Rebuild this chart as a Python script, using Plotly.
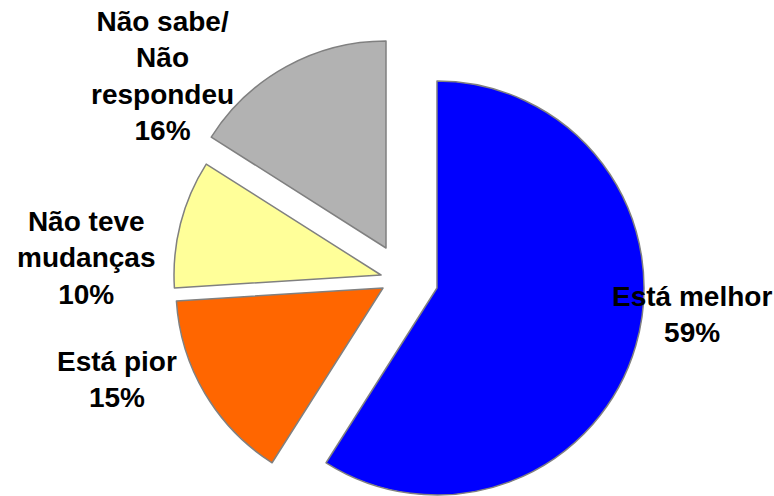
import plotly.graph_objects as go

labels = ["Está melhor", "Está pior", "Não teve mudanças", "Não sabe/Não respondeu"]
values = [59, 15, 10, 16]
colors = ["#0000FF", "#FF6600", "#FFFF99", "#B2B2B2"]
label_lines = ["Está melhor", "Está pior", "Não teve<br>mudanças", "Não sabe/<br>Não<br>respondeu"]

W, H = 774, 496
R = 207
# apex of each exploded slice, in px (one pie trace per slice so each can be offset)
centers = [(437, 288), (383, 288), (381, 275), (386, 248)]
label_pos = [(692, 314), (117, 379), (86, 258), (162, 76)]

total = sum(values)
fig = go.Figure()

for i, (cx, cy) in enumerate(centers):
    fill = [c if j == i else "rgba(0,0,0,0)" for j, c in enumerate(colors)]
    edge = ["#808080" if j == i else "rgba(0,0,0,0)" for j in range(len(values))]
    fig.add_trace(
        go.Pie(
            values=values,
            labels=labels,
            sort=False,
            direction="clockwise",
            rotation=0,
            marker={"colors": fill, "line": {"color": edge, "width": 1.5}},
            textinfo="none",
            hoverinfo="label+percent",
            domain={
                "x": [(cx - R) / W, (cx + R) / W],
                "y": [1 - (cy + R) / H, 1 - (cy - R) / H],
            },
        )
    )

for text, v, (px, py) in zip(label_lines, values, label_pos):
    fig.add_annotation(
        x=px / W,
        y=1 - py / H,
        xref="paper",
        yref="paper",
        text=f"<b>{text}<br>{v / total * 100:.0f}%</b>",
        showarrow=False,
        xanchor="center",
        yanchor="middle",
        align="center",
        font={"family": "Liberation Sans, Arial", "size": 28, "color": "black"},
    )

fig.update_layout(
    width=W,
    height=H,
    margin={"r": 0, "t": 0, "l": 0, "b": 0},
    showlegend=False,
    paper_bgcolor="white",
    plot_bgcolor="white",
)

# drop the browser's default body margin so the figure sits at the page origin
fig.write_html(
    "out.html",
    config={"displayModeBar": False},
    post_script="document.body.style.margin = '0';",
)
